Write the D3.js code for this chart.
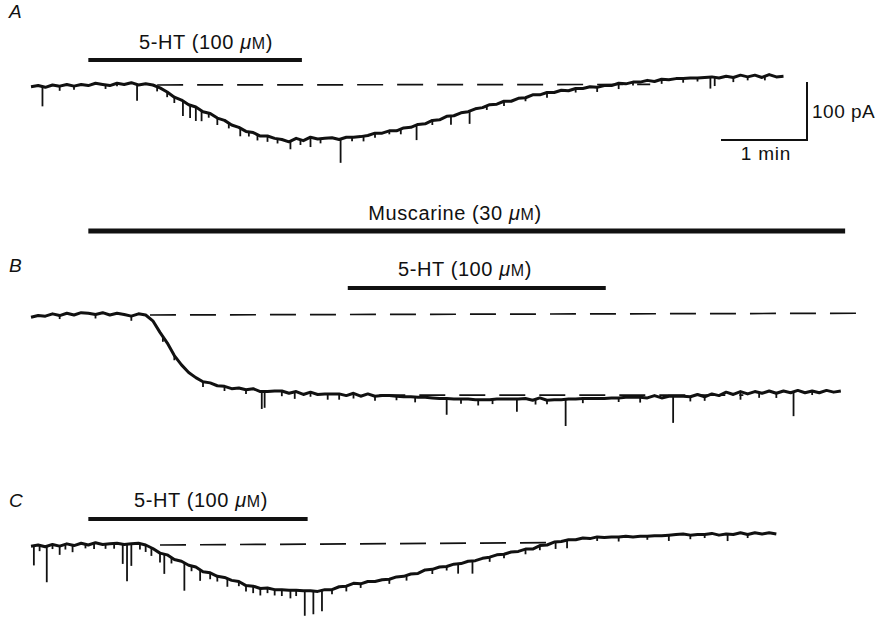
<!DOCTYPE html>
<html>
<head>
<meta charset="utf-8">
<script src="https://cdn.jsdelivr.net/npm/d3@7"></script>
<style>
  body { margin: 0; background: #fff; }
  svg text { font-family: "Liberation Sans", Arial, sans-serif; fill: #111; }
</style>
</head>
<body>
<svg id="fig" width="884" height="617"></svg>
<script>
// time in s, current in pA (relative to control baseline, inward = negative)
var timesA = d3.range(0, 526, 5);
var valuesA = [-3,-1,-4,0,-2,1,-2,1,-1,3,1,-1,3,1,4,0,2,0,-5,-12,-21,-26,-34,-38,-46,-49,-57,-61,-69,-73,-80,-82,-88,-88,-92,-94,-98,-92,-96,-90,-93,-92,-91,-94,-90,-90,-89,-87,-83,-83,-79,-79,-74,-73,-68,-67,-61,-60,-54,-53,-48,-46,-41,-39,-34,-33,-28,-28,-23,-22,-17,-17,-13,-13,-9,-10,-6,-6,-3,-4,-1,-1,3,2,5,5,8,6,10,9,11,11,12,12,13,14,12,15,13,17,14,17,13,18,14,15];
var spikesA = [[8,34],[74,28],[106,26],[111,22],[115,24],[119,18],[146,14],[165,10],[181,14],[195,17],[216,41],[269,26],[293,15],[306,22],[410,10],[474,20],[477,15],
  [20,8],[30,6],[52,7],[60,5],[88,8],[95,9],[100,10],[124,8],[130,12],[138,9],[152,8],[158,10],[172,8],[188,9],[202,8],[224,7],[232,9],[240,8],[250,6],[258,9],[280,8],[318,7],[330,8],[345,6],[360,9],[380,7],[395,8],[420,6],[440,8],[455,7],[465,6],[490,8],[500,6],[512,7]];

var timesB = d3.range(0, 566, 5);
var valuesB = [-4,-1,-2,2,-1,3,0,4,3,1,4,0,3,1,-2,2,0,-10,-30,-48,-70,-86,-99,-108,-115,-117,-122,-123,-127,-126,-129,-127,-132,-132,-131,-131,-135,-132,-137,-133,-137,-136,-136,-136,-139,-135,-140,-136,-140,-139,-139,-140,-141,-141,-142,-142,-143,-144,-144,-145,-145,-145,-146,-146,-146,-145,-145,-145,-145,-144,-147,-143,-147,-146,-146,-145,-145,-144,-144,-144,-144,-143,-143,-142,-142,-142,-143,-139,-143,-140,-140,-140,-141,-137,-141,-136,-139,-133,-137,-132,-136,-132,-135,-131,-135,-131,-134,-130,-134,-131,-134,-130,-133,-131];
var spikesB = [[161,30],[163,28],[184,12],[207,10],[290,28],[339,22],[373,46],[448,46],[495,14],[532,42],
  [20,6],[45,7],[70,8],[92,9],[100,8],[120,9],[135,8],[150,7],[175,9],[195,8],[215,10],[225,9],[240,8],[255,7],[268,9],[300,8],[312,10],[322,8],[352,9],[360,7],[385,8],[410,7],[425,9],[460,8],[470,7],[508,9],[520,8],[545,7]];

var timesC = d3.range(0, 521, 5);
var valuesC = [-2,0,-3,1,-2,2,-1,3,0,4,1,2,3,1,2,3,0,-6,-14,-17,-25,-28,-35,-38,-46,-48,-54,-56,-61,-63,-70,-71,-75,-74,-77,-77,-78,-78,-79,-79,-80,-77,-77,-72,-71,-66,-67,-63,-63,-60,-59,-55,-54,-50,-49,-43,-42,-38,-37,-33,-32,-28,-27,-23,-21,-17,-16,-12,-11,-7,-7,-1,0,5,6,9,9,12,11,14,13,14,14,15,14,15,15,16,16,17,18,19,17,18,18,20,17,19,18,21,18,21,19,21,19];
var spikesC = [[2,34],[11,62],[20,15],[29,12],[64,34],[67,64],[70,38],[84,14],[90,16],[93,34],[107,48],[118,19],[137,14],[160,12],[170,10],[181,14],[191,43],[197,40],[203,36],[298,17],[308,22],[366,12],[374,14],[445,10],[486,12],
  [6,10],[15,8],[24,9],[38,7],[44,10],[52,8],[58,9],[76,10],[80,12],[98,10],[112,9],[125,11],[130,9],[145,8],[150,10],[155,12],[165,9],[175,11],[185,10],[210,8],[220,9],[230,7],[250,8],[262,9],[280,8],[290,7],[320,8],[330,7],[345,9],[355,8],[395,7],[410,8],[430,6],[460,7],[470,6],[500,6]];

// drug applications [start s, end s]
var drugA = [40, 189];
var muscarine = [40, 568];
var drugB = [221, 401];
var drugC = [40, 193];
// dashed baselines [t, pA]
var dashA = [[88, 0], [432, 1]];
var dashB = [[83, 0], [577, 3]];
var dashB2 = [[243, -138], [497, -138]];
var dashC = [[90, 0], [360, 4]];

var labels = { drug: "5-HT (100 ", musc: "Muscarine (30 " };

var svg = d3.select("#fig");

// 1 min = 86 px, 100 pA = 58 px
var x = d3.scaleLinear().domain([0, 60]).range([31, 117]);
function yFor(base) {
  return d3.scaleLinear().domain([0, -100]).range([base, base + 58]);
}

var panels = [
  {name: "A", t: timesA, v: valuesA, sp: spikesA, y: yFor(85), ly: 18, dash: [dashA]},
  {name: "B", t: timesB, v: valuesB, sp: spikesB, y: yFor(315), ly: 272, dash: [dashB, dashB2]},
  {name: "C", t: timesC, v: valuesC, sp: spikesC, y: yFor(545), ly: 507, dash: [dashC]}
];

function drugLabel(cx, by, txt) {
  var t = svg.append("text")
      .attr("x", cx).attr("y", by)
      .attr("text-anchor", "middle")
      .style("font-size", "20px")
      .style("letter-spacing", "0.6px");
  t.append("tspan").text(txt);
  t.append("tspan").style("font-style", "italic").text("\u03bc");
  t.append("tspan").style("font-size", "16px").text("M");
  t.append("tspan").text(")");
}

function bar(range, yy, w) {
  svg.append("line")
      .attr("x1", x(range[0])).attr("x2", x(range[1]))
      .attr("y1", yy).attr("y2", yy)
      .attr("stroke", "#111").attr("stroke-width", w);
}

panels.forEach(function(p) {
  var data = p.t.map(function(d, i) { return [d, p.v[i]]; });

  svg.append("text")
      .attr("x", 9).attr("y", p.ly)
      .style("font-size", "19px")
      .style("font-style", "italic")
      .text(p.name);

  p.dash.forEach(function(d) {
    svg.append("line")
        .attr("x1", x(d[0][0])).attr("y1", p.y(d[0][1]))
        .attr("x2", x(d[1][0])).attr("y2", p.y(d[1][1]))
        .attr("stroke", "#111").attr("stroke-width", 1.7)
        .attr("stroke-dasharray", "26,14");
  });

  var line = d3.line()
      .x(function(d) { return x(d[0]); })
      .y(function(d) { return p.y(d[1]); });

  svg.append("path")
      .datum(data)
      .attr("fill", "none")
      .attr("stroke", "#111")
      .attr("stroke-width", 3)
      .attr("stroke-linejoin", "round")
      .attr("d", line);

  var interp = d3.scaleLinear().domain(p.t).range(p.v);
  svg.append("g").selectAll("line")
      .data(p.sp)
      .enter().append("line")
      .attr("x1", function(d) { return x(d[0]); })
      .attr("x2", function(d) { return x(d[0]); })
      .attr("y1", function(d) { return p.y(interp(d[0])); })
      .attr("y2", function(d) { return p.y(interp(d[0]) - d[1]); })
      .attr("stroke", "#111")
      .attr("stroke-width", 1.8);
});

// drug bars and labels
bar(drugA, 60, 4);
drugLabel(206, 49, labels.drug);
bar(muscarine, 231, 5);
drugLabel(455, 220, labels.musc);
bar(drugB, 288, 4);
drugLabel(465, 276, labels.drug);
bar(drugC, 519, 4);
drugLabel(201, 507, labels.drug);

// scale bar: 1 min, 100 pA
var ys = yFor(82);
var sx1 = 807, sx0 = sx1 - (x(60) - x(0));
svg.append("path")
    .attr("d", "M" + sx0 + "," + ys(-100) + "H" + sx1 + "V" + ys(0))
    .attr("fill", "none").attr("stroke", "#111").attr("stroke-width", 2);
svg.append("text")
    .attr("x", 812).attr("y", 118)
    .style("font-size", "19px")
    .style("letter-spacing", "0.5px")
    .text("100 pA");
svg.append("text")
    .attr("x", (sx0 + sx1) / 2 + 2).attr("y", 160)
    .attr("text-anchor", "middle")
    .style("font-size", "19px")
    .style("letter-spacing", "0.8px")
    .text("1 min");
</script>
</body>
</html>
